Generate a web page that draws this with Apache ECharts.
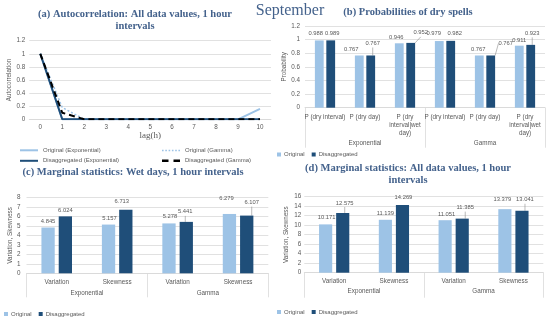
<!DOCTYPE html>
<html><head><meta charset="utf-8">
<script src="https://cdn.jsdelivr.net/npm/echarts@6/dist/echarts.min.js"></script>
<style>html,body{margin:0;padding:0;background:#fff;}#c{width:550px;height:323px;}</style>
</head><body><div id="c"></div>
<script>
// ---------- data ----------
const lagLabels = ['0','1','2','3','4','5','6','7','8','9','10'];
const acfOrigExp   = [1, 0, 0, 0, 0, 0, 0, 0, 0, 0, 0.16];
const acfOrigGamma = [1, 0.18, 0, 0, 0, 0, 0, 0, 0, 0, 0];
const acfDisExp    = [1, 0, 0, 0, 0, 0, 0, 0, 0, 0, 0];
const acfDisGamma  = [1, 0.1, 0, 0, 0, 0, 0, 0, 0, 0, 0];
const acfYTicks = [0, 1.2, 0.2];

const probCats = ['P (dry interval)', 'P (dry day)', 'P (dry\ninterval|wet\nday)', 'P (dry interval)', 'P (dry day)', 'P (dry\ninterval|wet\nday)'];
const probOrig = [0.988, 0.767, 0.946, 0.979, 0.767, 0.911];
const probDis  = [0.989, 0.767, 0.952, 0.982, 0.767, 0.923];
const probYTicks = [0, 1.2, 0.2];

const groups = ['Exponential', 'Gamma'];
const statCats = ['Variation', 'Skewness', 'Variation', 'Skewness'];
const wetOrig = [4.845, 5.157, 5.278, 6.279];
const wetDis  = [6.024, 6.713, 5.441, 6.107];
const wetYTicks = [0, 8, 1];
const allOrig = [10.171, 11.139, 11.051, 13.379];
const allDis  = [12.575, 14.269, 11.385, 13.041];
const allYTicks = [0, 16, 2];

// ---------- style ----------
const LIGHT = '#9DC3E6', DARK = '#1F4E79', TITLE = '#44628C', TXT = '#595959', GRID = '#D9D9D9';
const SANS = "'Liberation Sans', Arial, sans-serif";
const SERIF = "'Liberation Serif', serif";
const FS = 6.3, FL = 5.8, FLEG = 6;
// label nudges [dx, dy, leaderLine] per series, per data index
const nudges = {
  bO: [[-3.5,-1],[-8,0],[-3,0],[-5.5,-2],[-1,0],[0,1]],
  bD: [[1.5,-1],[2,-6,1],[10,-4,1],[4,-1.5],[15,-6,1],[1.5,-5.5,1]],
  cO: [[0,0],[1,0],[1,-1],[-3,-10]],
  cD: [[0,0],[-4,-2],[-1,-4,1],[5,-7,1]],
  dO: [[1,-1],[0,0],[1.5,0],[-2.5,-4]],
  dD: [[2,-4,1],[1,-2],[3,-5,1],[3,-5,1]]
};
const ICON_SOLID = 'path://M0,0H18V2H0Z';
const ICON_DOT = 'path://M0,0H1.6V1.6H0Z M3.3,0H4.9V1.6H3.3Z M6.6,0H8.2V1.6H6.6Z M9.9,0H11.5V1.6H9.9Z M13.2,0H14.8V1.6H13.2Z M16.4,0H18V1.6H16.4Z';
const ICON_DASH = 'path://M0,0H6.5V2.5H0Z M11.5,0H18V2.5H11.5Z';

const grids = [
  {left: 29.3, top: 40.7, width: 241.7, height: 78.6},
  {left: 305, top: 26, width: 240, height: 81.7},
  {left: 26.5, top: 197.7, width: 241.8, height: 75.6},
  {left: 304.3, top: 196.7, width: 239, height: 76}
];

function yAxis(gi, t, name, gap, margin) {
  return {type: 'value', gridIndex: gi, min: t[0], max: t[1], interval: t[2],
    name: name, nameLocation: 'middle', nameGap: gap, nameRotate: 90,
    nameTextStyle: {fontFamily: SANS, fontSize: FS, color: TXT},
    axisLine: {show: false}, axisTick: {show: false},
    axisLabel: {fontFamily: SANS, fontSize: FS, color: TXT, margin: margin},
    splitLine: {lineStyle: {color: GRID, width: 0.8}}};
}
function catAxis(gi, data, margin) {
  return {type: 'category', gridIndex: gi, data: data, position: 'bottom',
    axisLine: {lineStyle: {color: GRID, width: 0.8}}, axisTick: {show: false},
    axisLabel: {fontFamily: SANS, fontSize: FS, color: TXT, margin: margin, interval: 0, lineHeight: 8.3}};
}
function groupAxis(gi, len, margin) {
  return {type: 'category', gridIndex: gi, data: groups, position: 'bottom',
    axisLine: {show: false},
    axisTick: {show: true, length: len, interval: 0, lineStyle: {color: GRID, width: 0.8}},
    axisLabel: {fontFamily: SANS, fontSize: FS, color: TXT, margin: margin, interval: 0}};
}
function barData(vals, key) {
  return vals.map((v, i) => {
    const n = nudges[key][i];
    return n[2] ? {value: v, labelLine: {show: true, lineStyle: {color: '#8C8C8C', width: 0.6}}} : v;
  });
}
function bars(gi, xi, name, vals, color, key) {
  return {type: 'bar', name: name, xAxisIndex: xi, yAxisIndex: gi, data: barData(vals, key),
    barWidth: '22%', barGap: '30%', itemStyle: {color: color},
    label: {show: true, position: 'top', distance: 2, fontFamily: SANS, fontSize: FL, color: TXT, lineHeight: 8},
    labelLine: {show: false, lineStyle: {color: '#8C8C8C', width: 0.6}},
    labelLayout: function (p) { const n = nudges[key][p.dataIndex]; return {dx: n[0], dy: n[1]}; }};
}
function line(name, vals, color, width, type) {
  return {type: 'line', name: name, xAxisIndex: 0, yAxisIndex: 0, data: vals,
    symbol: 'none', lineStyle: {color: color, width: width, type: type}, itemStyle: {color: color}};
}
function lineLegend(name, icon, h, left, top) {
  return {data: [{name: name, icon: icon}], left: left, top: top, padding: 0, itemWidth: 18, itemHeight: h,
    textStyle: {fontFamily: SANS, fontSize: FLEG, color: TXT}, selectedMode: false};
}
function barLegend(left, top) {
  return {data: ['Original', 'Disaggregated'], left: left, top: top, padding: 0, itemWidth: 4, itemHeight: 4,
    itemGap: 7, icon: 'rect', textStyle: {fontFamily: SANS, fontSize: FLEG, color: TXT, padding: [0, 0, 0, -2]}, selectedMode: false};
}
function title(text, x, y, size) {
  return {text: text, left: x, top: y, textAlign: 'center', padding: 0,
    textStyle: {fontFamily: SERIF, fontSize: size || 10.5, fontWeight: 'bold', color: TITLE, lineHeight: 11.5}};
}

const option = {
  animation: false,
  title: [
    {text: 'September', left: 290, top: 3, textAlign: 'center', padding: 0,
      textStyle: {fontFamily: SERIF, fontSize: 16, fontWeight: 'normal', color: TITLE}},
    title('(a) Autocorrelation: All data values, 1 hour\nintervals', 135, 9),
    title('(b) Probabilities of dry spells', 408, 6.5),
    title('(c) Marginal statistics: Wet days, 1 hour intervals', 133, 166.5),
    title('(d) Marginal statistics: All data values, 1 hour\nintervals', 408, 163)
  ],
  legend: [
    lineLegend('Original (Exponential)', ICON_SOLID, 2, 20, 147.3),
    lineLegend('Original (Gamma)', ICON_DOT, 1.6, 162, 147.5),
    lineLegend('Disaggregated (Exponential)', ICON_SOLID, 2.5, 20, 157.8),
    lineLegend('Disaggregated (Gamma)', ICON_DASH, 2.5, 162, 157.8),
    barLegend(277, 151.5),
    barLegend(4, 311),
    barLegend(277, 309)
  ],
  grid: grids,
  xAxis: [
    {type: 'category', gridIndex: 0, data: lagLabels, boundaryGap: true,
      name: 'lag(h)', nameLocation: 'middle', nameGap: 10.5,
      nameTextStyle: {fontFamily: SERIF, fontSize: 9, color: TXT},
      axisLine: {lineStyle: {color: GRID, width: 0.8}}, axisTick: {show: false},
      axisLabel: {fontFamily: SANS, fontSize: FS, color: TXT, margin: 5}},
    catAxis(1, probCats, 5),
    groupAxis(1, 40, 33),
    catAxis(2, statCats, 4.5),
    groupAxis(2, 24, 16.5),
    catAxis(3, statCats, 4.5),
    groupAxis(3, 25, 16)
  ],
  yAxis: [
    yAxis(0, acfYTicks, 'Autocorrelation', 16, 4),
    yAxis(1, probYTicks, 'Probability', 18, 5),
    yAxis(2, wetYTicks, 'Variation, Skewness', 13, 6),
    yAxis(3, allYTicks, 'Variation, Skewness', 15, 3)
  ],
  series: [
    line('Original (Exponential)', acfOrigExp, LIGHT, 2, 'solid'),
    line('Original (Gamma)', acfOrigGamma, LIGHT, 1.5, [2, 2]),
    line('Disaggregated (Exponential)', acfDisExp, DARK, 2, 'solid'),
    line('Disaggregated (Gamma)', acfDisGamma, '#000000', 2, [6, 4]),
    bars(1, 1, 'Original', probOrig, LIGHT, 'bO'),
    bars(1, 1, 'Disaggregated', probDis, DARK, 'bD'),
    bars(2, 3, 'Original', wetOrig, LIGHT, 'cO'),
    bars(2, 3, 'Disaggregated', wetDis, DARK, 'cD'),
    bars(3, 5, 'Original', allOrig, LIGHT, 'dO'),
    bars(3, 5, 'Disaggregated', allDis, DARK, 'dD')
  ]
};
echarts.init(document.getElementById('c')).setOption(option);
</script></body></html>
